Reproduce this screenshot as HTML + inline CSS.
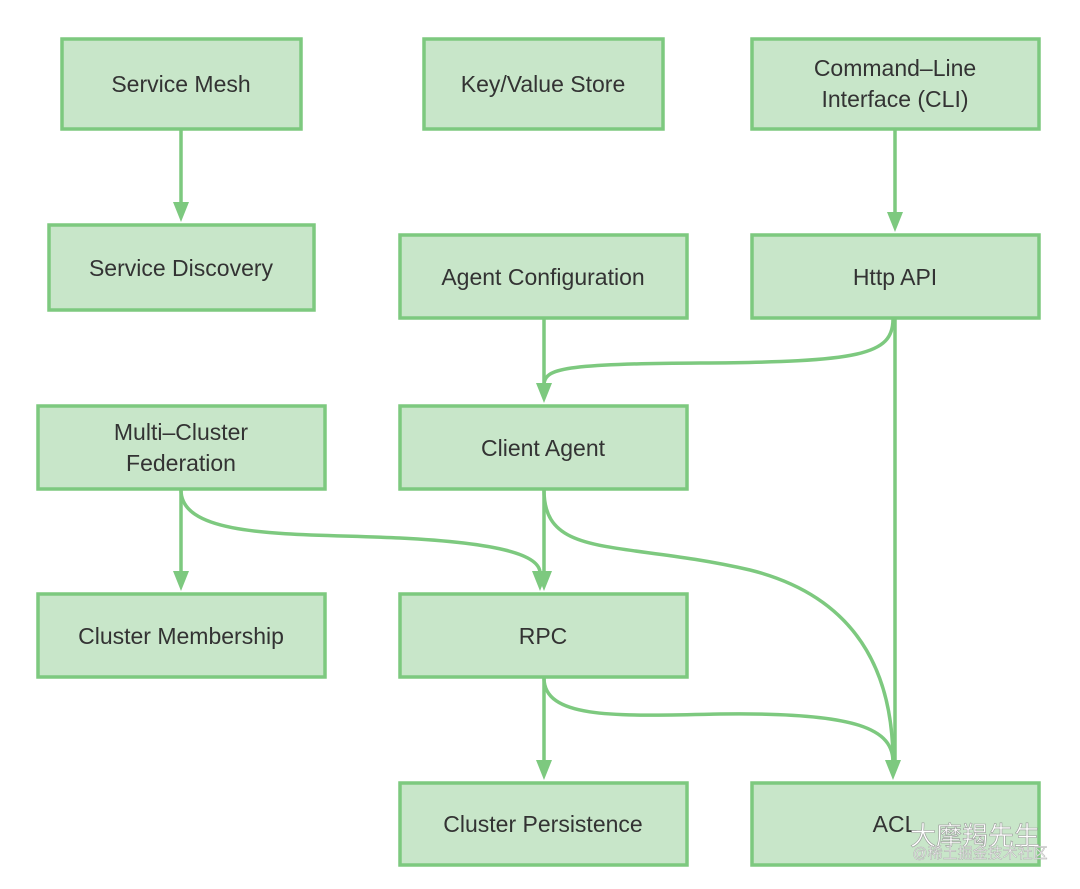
<!DOCTYPE html>
<html><head><meta charset="utf-8"><style>
html,body{margin:0;padding:0;background:#fff;}
svg text{font-family:"Liberation Sans","Noto Sans CJK SC",sans-serif;font-size:23px;fill:#333;text-anchor:middle;}
</style></head><body>
<svg width="1080" height="884" viewBox="0 0 1080 884" xmlns="http://www.w3.org/2000/svg">
<g fill="#c8e6c9" stroke="#7dc97f" stroke-width="3.5">
<rect x="62" y="39" width="239" height="90"/>
<rect x="424" y="39" width="239" height="90"/>
<rect x="752" y="39" width="287" height="90"/>
<rect x="49" y="225" width="265" height="85"/>
<rect x="400" y="235" width="287" height="83"/>
<rect x="752" y="235" width="287" height="83"/>
<rect x="38" y="406" width="287" height="83"/>
<rect x="400" y="406" width="287" height="83"/>
<rect x="38" y="594" width="287" height="83"/>
<rect x="400" y="594" width="287" height="83"/>
<rect x="400" y="783" width="287" height="82"/>
<rect x="752" y="783" width="287" height="82"/>
</g>
<g fill="none" stroke="#7dc97f" stroke-width="3.5">
<path d="M181,130 L181,204"/>
<path d="M895,130 L895,214"/>
<path d="M544,319 L544,385"/>
<path d="M893,319 C893,355 860,362 700,363 C565,364 544,368 544,385"/>
<path d="M895,319 L895,762"/>
<path d="M181,490 L181,573"/>
<path d="M181,490 C181,540 300,533 400,538 C500,543 540,555 540,573"/>
<path d="M544,490 L544,573"/>
<path d="M544,490 C544,560 620,540 750,570 C870,600 893,690 893,762"/>
<path d="M544,678 L544,762"/>
<path d="M544,678 C544,720 620,716 720,714 C860,712 893,730 893,762"/>
</g>
<g fill="#7dc97f">
<path d="M173,202 L189,202 L181,222z"/>
<path d="M887,212 L903,212 L895,232z"/>
<path d="M536,383 L552,383 L544,403z"/>
<path d="M532,571 L548,571 L540,591z"/>
<path d="M536,571 L552,571 L544,591z"/>
<path d="M173,571 L189,571 L181,591z"/>
<path d="M536,760 L552,760 L544,780z"/>
<path d="M885,760 L901,760 L893,780z"/>
</g>
<text x="181" y="92">Service Mesh</text>
<text x="543" y="92">Key/Value Store</text>
<text x="895" y="76">Command–Line</text>
<text x="895" y="107">Interface (CLI)</text>
<text x="181" y="276">Service Discovery</text>
<text x="543" y="285">Agent Configuration</text>
<text x="895" y="285">Http API</text>
<text x="181" y="440">Multi–Cluster</text>
<text x="181" y="471">Federation</text>
<text x="543" y="456">Client Agent</text>
<text x="181" y="644">Cluster Membership</text>
<text x="543" y="644">RPC</text>
<text x="543" y="832">Cluster Persistence</text>
<text x="895" y="832">ACL</text>
<text x="975" y="845" style="font-size:26px;fill:#fff;stroke:#999;stroke-width:0.6">大摩羯先生</text>
<text x="980" y="858" style="font-size:15px;fill:#eee;stroke:#aaa;stroke-width:0.4">@稀土掘金技术社区</text>
</svg>
</body></html>
